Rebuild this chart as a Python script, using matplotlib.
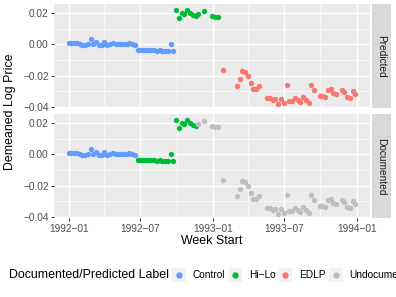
import matplotlib
matplotlib.use("Agg")
import matplotlib.pyplot as plt
import matplotlib.dates as mdates
from matplotlib.patches import Rectangle
from matplotlib.lines import Line2D
from matplotlib.ticker import FixedLocator, FuncFormatter
import numpy as np
import pandas as pd

plt.rcParams["font.family"] = ["Liberation Sans", "DejaVu Sans"]

START = pd.Timestamp("1992-01-01")

# --------------------------------------------------------------------------
# Data (weeks since START, demeaned log price)
# --------------------------------------------------------------------------
control_weeks = list(range(0, 39))
control_vals = [0.0008, 0.0008, 0.0009, 0.0007, 0.0003, -0.0004, -0.0003, 0.0006,
                0.0035, 0.0002, 0.0015, -0.0004, -0.0003, 0.0019, -0.0003, 0.0005,
                0.0008, 0.0006, 0.0004, 0.0006, 0.0003, 0.0005, 0.0009, 0.0006,
                -0.0003, -0.0033, -0.0035, -0.0035, -0.0036, -0.0034, -0.0037,
                -0.0036, -0.0040, -0.0038, -0.0042, -0.0041, -0.0040, 0.0001, -0.0043]

hilo_weeks = [39, 40, 41, 42, 43, 44, 45, 46, 47, 49, 52, 53, 54]
hilo_vals = [0.0222, 0.0171, 0.0200, 0.0196, 0.0222, 0.0200, 0.0192, 0.0185,
             0.0196, 0.0213, 0.0181, 0.0175, 0.0179]

edlp_weeks = [56, 61, 62, 63, 64, 65, 66, 67, 68, 69, 72, 73, 74, 75, 76, 77, 78,
              79, 80, 81, 82, 83, 84, 85, 86, 87, 88, 89, 91, 92, 93, 94, 95, 96,
              97, 99, 100, 101, 102, 103, 104]
edlp_vals = [-0.0162, -0.0266, -0.0219, -0.0168, -0.0180, -0.0203, -0.0247,
             -0.0289, -0.0287, -0.0268, -0.0341, -0.0343, -0.0358, -0.0351,
             -0.0383, -0.0351, -0.0375, -0.0258, -0.0364, -0.0364, -0.0341,
             -0.0358, -0.0369, -0.0337, -0.0358, -0.0379, -0.0258, -0.0294,
             -0.0330, -0.0334, -0.0337, -0.0294, -0.0283, -0.0311, -0.0315,
             -0.0294, -0.0305, -0.0337, -0.0343, -0.0298, -0.0319]

# documented labels: last week of each documented class
doc_control_last = 24
doc_hilo_last = 46

labels = ["Control", "Hi\u2212Lo", "EDLP", "Undocumented"]
colors = {"Control": "#619CFF", "Hi\u2212Lo": "#00BA38", "EDLP": "#F8766D",
          "Undocumented": "#BEBEBE"}

weeks = np.array(control_weeks + hilo_weeks + edlp_weeks)
price = np.array(control_vals + hilo_vals + edlp_vals)
pred = np.array(["Control"] * len(control_weeks) + ["Hi\u2212Lo"] * len(hilo_weeks)
                + ["EDLP"] * len(edlp_weeks))
doc = np.where(weeks <= doc_control_last, "Control",
               np.where(weeks <= doc_hilo_last, "Hi\u2212Lo", "Undocumented"))
dates = (START + pd.to_timedelta(weeks * 7, unit="D")).values

# --------------------------------------------------------------------------
# Figure
# --------------------------------------------------------------------------
W, H = 396, 297
fig = plt.figure(figsize=(W / 100, H / 100), dpi=100)


def fr(x0, y0, x1, y1):
    """pixel box (top-left origin) -> figure fraction rect"""
    return [x0 / W, 1 - y1 / H, (x1 - x0) / W, (y1 - y0) / H]


ax_top = fig.add_axes(fr(54.3, 4.3, 369.8, 108.3))
ax_bot = fig.add_axes(fr(54.3, 114.3, 369.8, 218.3))

xlim = (START - pd.Timedelta(days=36.4), START + pd.Timedelta(days=764.4))
major_x = [pd.Timestamp(s) for s in ["1992-01-01", "1992-07-01", "1993-01-01",
                                      "1993-07-01", "1994-01-01"]]
minor_x = [pd.Timestamp(s) for s in ["1991-10-01", "1992-04-01", "1992-10-01",
                                      "1993-04-01", "1993-10-01"]]
major_y = [-0.04, -0.02, 0.0, 0.02]
minor_y = [-0.03, -0.01, 0.01]

for ax, lab, strip in [(ax_top, pred, "Predicted"), (ax_bot, doc, "Documented")]:
    ax.set_facecolor("#EBEBEB")
    for s in ax.spines.values():
        s.set_visible(False)
    ax.set_xlim(*xlim)
    ax.set_ylim(-0.041, 0.0258)
    for v in minor_y:
        ax.axhline(v, color="white", lw=0.5, zorder=0)
    for v in major_y:
        ax.axhline(v, color="white", lw=1.0, zorder=0)
    for v in minor_x:
        ax.axvline(v, color="white", lw=0.5, zorder=0)
    for v in major_x:
        ax.axvline(v, color="white", lw=1.0, zorder=0)
    for name in labels:
        m = lab == name
        if m.any():
            ax.scatter(dates[m], price[m], s=15, color=colors[name],
                       linewidths=0, zorder=3)
    ax.yaxis.set_major_locator(FixedLocator(major_y))
    ax.yaxis.set_major_formatter(FuncFormatter(
        lambda v, p: f"{v:.2f}".replace("-", "\u2212")))
    ax.tick_params(axis="y", length=2.5, width=0.7, color="#333333",
                   labelsize=7.3, labelcolor="#4D4D4D", pad=1.5)
    ax.xaxis.set_major_locator(FixedLocator(mdates.date2num(major_x)))
    ax.xaxis.set_major_formatter(mdates.DateFormatter("%Y\u2212%m"))
    ax.tick_params(axis="x", length=2.5, width=0.7, color="#333333",
                   labelsize=7.3, labelcolor="#4D4D4D", pad=1.5)

    # facet strip on the right
    pos = ax.get_position()
    sax = fig.add_axes([371.5 / W, pos.y0, 19 / W, pos.height])
    sax.set_facecolor("#D9D9D9")
    sax.set_xticks([])
    sax.set_yticks([])
    for s in sax.spines.values():
        s.set_visible(False)
    sax.text(0.5, 0.5, strip, rotation=-90, ha="center", va="center",
             fontsize=7.3, color="#1A1A1A", transform=sax.transAxes)

ax_top.tick_params(axis="x", bottom=False, labelbottom=False)

fig.text(10.5 / W, 1 - 111.3 / H, "Demeaned Log Price", rotation=90,
         ha="center", va="center", fontsize=8.9)
fig.text(212 / W, 1 - 241.5 / H, "Week Start", ha="center", va="center",
         fontsize=8.9)

# legend at the bottom (runs off the right edge, as in the reference)
ly = 275
fig.text(9 / W, 1 - ly / H, "Documented/Predicted Label", ha="left",
         va="center", fontsize=8.9)
key_x = [172, 228.5, 278.5, 329]
for name, kx in zip(labels, key_x):
    fig.add_artist(Rectangle((kx / W, 1 - (ly + 6.7) / H), 13.5 / W, 13.4 / H,
                             transform=fig.transFigure, facecolor="#F2F2F2",
                             edgecolor="none"))
    fig.add_artist(Line2D([(kx + 6.75) / W], [1 - ly / H], marker="o",
                          markersize=3.6, color=colors[name], linestyle="none",
                          transform=fig.transFigure))
    fig.text((kx + 20.5) / W, 1 - ly / H, name, ha="left", va="center",
             fontsize=7.3)

fig.savefig("out.png", dpi=100)
